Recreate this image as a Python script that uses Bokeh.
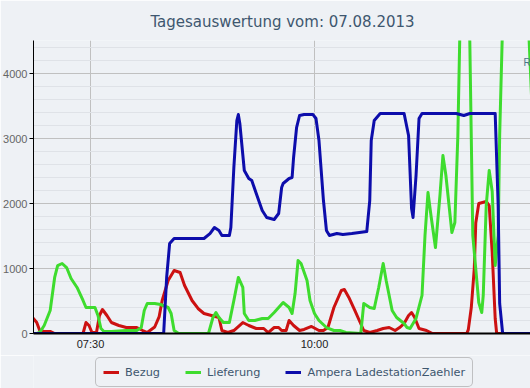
import pandas as pd
from bokeh.plotting import figure
from bokeh.layouts import column
from bokeh.models import (Range1d, FixedTicker, SingleIntervalTicker, DatetimeTickFormatter,
                          Legend, LegendItem, Label)
from bokeh.embed import file_html
from bokeh.resources import INLINE

DAY = "2013-08-07 "
TITLE = "Tagesauswertung vom: 07.08.2013"

bezug_times = ["06:50","06:54","06:56","06:59","07:03","07:06","07:25","07:27","07:29","07:31","07:34","07:36","07:38","07:41","07:44","07:49","07:54","08:01","08:05","08:08","08:13","08:16","08:18","08:22","08:26","08:30","08:33","08:38","08:42","08:46","08:51","08:56","08:58","09:02","09:06","09:12","09:16","09:21","09:26","09:29","09:33","09:36","09:38","09:41","09:43","09:46","09:50","09:53","09:58","10:03","10:06","10:09","10:13","10:18","10:20","10:23","10:27","10:30","10:33","10:37","10:42","10:46","10:50","10:54","10:57","11:00","11:03","11:05","11:07","11:10","11:15","11:19","11:42","11:43","11:45","11:47","11:48","11:50","11:55","11:57","11:59","12:01","12:02","12:26"]
bezug_values = [280,169,46,31,31,0,0,169,123,15,15,277,369,277,169,123,92,92,46,15,100,260,508,815,969,938,738,508,385,308,277,246,46,15,46,169,123,77,77,15,92,92,46,46,200,123,46,62,108,46,46,92,400,662,677,554,354,200,46,15,46,77,92,46,92,154,277,323,250,77,46,0,0,60,400,1000,1700,2000,2031,1969,1246,231,0,0]

lieferung_times = ["06:50","06:54","06:56","06:59","07:03","07:06","07:08","07:11","07:14","07:17","07:21","07:25","07:27","07:33","07:35","07:37","07:39","07:44","07:54","08:01","08:04","08:06","08:08","08:13","08:17","08:22","08:24","08:26","08:29","08:49","08:52","08:54","08:56","08:59","09:03","09:06","09:09","09:12","09:13","09:16","09:20","09:25","09:29","09:33","09:39","09:43","09:45","09:47","09:49","09:51","09:55","09:57","10:00","10:03","10:08","10:13","10:17","10:21","10:31","10:33","10:37","10:40","10:43","10:46","10:48","10:52","10:55","11:00","11:02","11:04","11:08","11:12","11:14","11:16","11:18","11:21","11:24","11:26","11:28","11:32","11:34","11:36","11:38","11:41","11:44","11:46","11:50","11:52","11:53","11:55","11:57","11:59","12:01","12:03","12:04","12:06","12:12","12:20","12:23","12:26"]
lieferung_values = [0,0,15,123,354,862,1046,1077,1015,846,708,508,400,400,277,77,31,31,46,46,92,354,462,462,446,400,308,46,0,0,246,323,246,169,169,508,862,708,308,200,200,231,231,323,477,400,308,615,1123,1077,815,508,308,200,92,46,46,15,0,462,400,385,708,1077,815,354,246,154,92,77,231,585,1508,2169,1815,1323,2123,2738,2431,1554,1708,3046,5400,5600,4500,1508,477,323,585,1969,2508,2185,1046,1508,3046,4800,6000,6000,4900,3300]

ampera_times = ["06:50","08:19","08:21","08:23","08:26","08:33","08:40","08:46","08:50","08:53","08:56","08:58","09:03","09:04","09:06","09:08","09:09","09:10","09:13","09:16","09:18","09:21","09:25","09:28","09:33","09:36","09:38","09:39","09:43","09:45","09:46","09:48","09:50","09:53","09:59","10:01","10:03","10:06","10:08","10:10","10:15","10:19","10:25","10:30","10:35","10:37","10:38","10:40","10:44","10:53","11:00","11:03","11:05","11:06","11:08","11:10","11:12","11:24","11:35","11:40","11:44","11:53","12:01","12:03","12:04","12:06","12:26"]
ampera_values = [0,0,862,1385,1462,1462,1462,1462,1538,1631,1585,1508,1508,1631,2554,3277,3369,3231,2508,2385,2354,2154,1892,1785,1754,1846,2246,2308,2385,2400,2708,3169,3354,3369,3369,3308,2969,2046,1585,1508,1538,1523,1538,1554,1569,2046,2969,3277,3385,3385,3385,3046,1923,1785,2431,3308,3385,3385,3385,3354,3385,3385,3385,1969,462,0,0]

series_names = ["Bezug", "Lieferung", "Ampera LadestationZaehler"]
series_colors = ["#cc1111", "#3edc2e", "#0d0dab"]
y_tick_step = 1000
x_ticks = ["07:30", "10:00"]
x_start_str, x_end_str = "06:51:50", "12:25:19"
y_max = 4508

BG = "#eef1f5"
FONT = "DejaVu Sans"
AXFONT = "Liberation Sans"


def ts(lst):
    return pd.to_datetime([DAY + t for t in lst])


def ms(t):
    return (pd.Timestamp(DAY + t) - pd.Timestamp("1970-01-01")) / pd.Timedelta(milliseconds=1)


x0, x1 = ms(x_start_str), ms(x_end_str)

p = figure(frame_width=498, frame_height=293, x_axis_type="datetime",
           x_range=Range1d(x0, x1), y_range=Range1d(0, y_max),
           output_backend="svg", toolbar_location=None,
           min_border_left=32, min_border_right=0, min_border_top=40, min_border_bottom=22,
           background_fill_color=BG, border_fill_color=BG, outline_line_color=None,
           title=TITLE)

p.title.align = "center"
p.title.text_font = FONT
p.title.text_font_size = "15px"
p.title.text_font_style = "normal"
p.title.text_color = "#3e576f"
p.title.standoff = 19

# grids
p.yaxis.ticker = SingleIntervalTicker(interval=y_tick_step, num_minor_ticks=5)
p.ygrid.grid_line_color = "#c0c0c0"
p.ygrid.minor_grid_line_color = "#dfe2e7"
p.xaxis.ticker = FixedTicker(ticks=[ms(t) for t in x_ticks])
p.xgrid.grid_line_color = "#c0c0c0"

# y axis
p.yaxis.axis_line_color = "black"
p.yaxis.axis_line_width = 1
p.yaxis.major_tick_out = 4
p.yaxis.major_tick_in = 0
p.yaxis.major_tick_line_color = "black"
p.yaxis.minor_tick_out = 0
p.yaxis.minor_tick_in = 0
p.yaxis.major_label_standoff = 2
p.yaxis.major_label_text_font = AXFONT
p.yaxis.major_label_text_font_size = "11px"
p.yaxis.major_label_text_color = "#666666"

# x axis
p.xaxis.axis_line_color = "black"
p.xaxis.axis_line_width = 2
p.xaxis.major_tick_out = 0
p.xaxis.major_tick_in = 0
p.xaxis.minor_tick_out = 0
p.xaxis.minor_tick_in = 0
p.xaxis.major_label_standoff = 4
p.xaxis.major_label_text_font = AXFONT
p.xaxis.major_label_text_font_size = "11px"
p.xaxis.major_label_text_color = "#222222"
p.xaxis.formatter = DatetimeTickFormatter(hours="%H:%M", hourmin="%H:%M", minutes="%H:%M",
                                          minsec="%H:%M", days="%H:%M")

for times, vals, color in [(bezug_times, bezug_values, series_colors[0]),
                           (lieferung_times, lieferung_values, series_colors[1]),
                           (ampera_times, ampera_values, series_colors[2])]:
    p.line(ts(times), vals, line_color=color, line_width=3, line_join="round")

# cropped label at top right
p.add_layout(Label(x=ms("12:20:00"), y=4169, text="R", text_align="left",
                   text_baseline="middle", text_font=AXFONT, text_font_size="10px",
                   text_color="#4a7689"))

# legend strip below the chart (legend-only renderers hold no points)
pl = figure(width=530, height=33, output_backend="svg", toolbar_location=None,
            x_axis_location=None, y_axis_location=None, min_border=0,
            x_range=Range1d(0, 1), y_range=Range1d(0, 1),
            background_fill_color=BG, border_fill_color=BG, outline_line_color=None)
pl.grid.visible = False
nan = float("nan")
leg_renderers = [pl.line(x=[nan], y=[nan], line_color=c, line_width=3) for c in series_colors]
legend = Legend(items=[LegendItem(label=n, renderers=[r]) for n, r in zip(series_names, leg_renderers)],
                orientation="horizontal", location=(62, 1), margin=0,
                border_line_color="#909090", border_line_width=1,
                background_fill_color=BG, background_fill_alpha=1,
                label_text_font=FONT, label_text_font_size="11.3px", label_text_color="#3e576f",
                glyph_width=16, glyph_height=14, label_height=14, label_standoff=6,
                spacing=25, padding=7)
try:
    legend.border_radius = 5
except Exception:
    pass
pl.add_layout(legend, "center")

layout = column(p, pl, spacing=0)
open("out.html", "w").write(file_html(layout, INLINE))
